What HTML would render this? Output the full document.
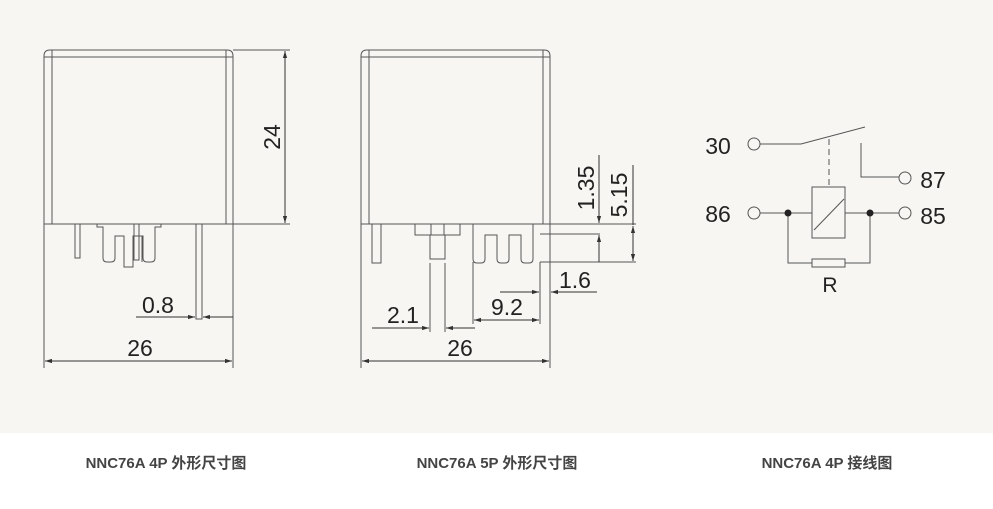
<!DOCTYPE html>
<html><head><meta charset="utf-8"><style>
body{margin:0;width:993px;height:509px;overflow:hidden;background:#fff}
svg{display:block}
text{font-family:"Liberation Sans","Noto Sans CJK SC",sans-serif}
</style></head><body>
<svg width="993" height="509" viewBox="0 0 993 509">
<rect x="0" y="0" width="993" height="433" fill="#f8f6f3"/>
<defs><marker id="a" viewBox="0 0 10 10" refX="10" refY="5" markerWidth="7" markerHeight="7" orient="auto-start-reverse"><path d="M0,2 L10,5 L0,8 z" fill="#333"/></marker></defs>
<g fill="none" stroke="#555" stroke-width="1">
<path d="M44,224 V56 Q44,50 50,50 H227 Q233,50 233,56 V224 Z"/>
<line x1="52" y1="50" x2="52" y2="224"/><line x1="226" y1="50" x2="226" y2="224"/>
<line x1="44" y1="57" x2="233" y2="57"/>
<rect x="75" y="224" width="5" height="34"/>
<path d="M97,224 v3 h6 v31 q0,4 4,4 h4 q4,0 4,-4 v-22 h9 v31 h9 v-31 h10 v22 q0,4 4,4 h4 q4,0 4,-4 v-31 h6 v-3"/>
<line x1="133" y1="236" x2="133" y2="262"/><line x1="142" y1="236" x2="142" y2="262"/>
<rect x="134" y="224" width="5" height="36"/>
<rect x="196" y="224" width="6" height="95"/>
<line x1="233" y1="224" x2="290" y2="224"/><line x1="233" y1="50" x2="290" y2="50"/>
<line x1="44" y1="224" x2="44" y2="368"/><line x1="233" y1="224" x2="233" y2="368"/>
<path d="M361,224 V56 Q361,50 367,50 H544 Q550,50 550,56 V224 Z"/>
<line x1="369" y1="50" x2="369" y2="224"/><line x1="543" y1="50" x2="543" y2="224"/>
<line x1="361" y1="57" x2="550" y2="57"/>
<rect x="372" y="224" width="9" height="39"/>
<rect x="415" y="224" width="45" height="11"/>
<line x1="431" y1="224" x2="431" y2="235"/><line x1="444" y1="224" x2="444" y2="235"/>
<path d="M430,235 v24 h15 v-24"/>
<path d="M473,224 v35 q0,4 4,4 h4 q4,0 4,-4 v-24 h12 v24 q0,4 4,4 h4 q4,0 4,-4 v-24 h12 v24 q0,4 4,4 h4 q4,0 4,-4 v-35"/>
<line x1="361" y1="224" x2="361" y2="368"/><line x1="550" y1="224" x2="550" y2="368"/>
<line x1="550" y1="224" x2="636" y2="224"/><line x1="540" y1="234" x2="600" y2="234"/><line x1="540" y1="262" x2="636" y2="262"/>
<line x1="430" y1="263" x2="430" y2="332"/><line x1="445" y1="263" x2="445" y2="332"/>
<line x1="473" y1="262" x2="473" y2="324"/><line x1="540" y1="262" x2="540" y2="324"/>
<line x1="550" y1="262" x2="550" y2="296"/>
</g>
<g stroke="#333" stroke-width="1" fill="none">
<line x1="285" y1="51" x2="285" y2="223" marker-start="url(#a)" marker-end="url(#a)"/>
<line x1="45" y1="361" x2="232" y2="361" marker-start="url(#a)" marker-end="url(#a)"/>
<line x1="136" y1="317" x2="195" y2="317" marker-end="url(#a)"/>
<line x1="233" y1="317" x2="203" y2="317" marker-end="url(#a)"/>
<line x1="362" y1="361" x2="549" y2="361" marker-start="url(#a)" marker-end="url(#a)"/>
<line x1="372" y1="328" x2="429" y2="328" marker-end="url(#a)"/>
<line x1="475" y1="328" x2="446" y2="328" marker-end="url(#a)"/>
<line x1="474" y1="320" x2="539" y2="320" marker-start="url(#a)" marker-end="url(#a)"/>
<line x1="500" y1="292" x2="539" y2="292" marker-end="url(#a)"/>
<line x1="597" y1="292" x2="551" y2="292" marker-end="url(#a)"/>
<line x1="599" y1="155" x2="599" y2="223" marker-end="url(#a)"/>
<line x1="599" y1="262" x2="599" y2="235" marker-end="url(#a)"/>
<line x1="633" y1="165" x2="633" y2="225"/>
<line x1="633" y1="226" x2="633" y2="261" marker-start="url(#a)" marker-end="url(#a)"/>
</g>
<g fill="#222" font-size="23">
<text x="272" y="137" text-anchor="middle" transform="rotate(-90 272 137)" dy="8">24</text>
<text x="158" y="313" text-anchor="middle">0.8</text>
<text x="140" y="356" text-anchor="middle">26</text>
<text x="403" y="323" text-anchor="middle">2.1</text>
<text x="507" y="315" text-anchor="middle">9.2</text>
<text x="575" y="288" text-anchor="middle">1.6</text>
<text x="460" y="356" text-anchor="middle">26</text>
<text x="586" y="188" text-anchor="middle" transform="rotate(-90 586 188)" dy="8">1.35</text>
<text x="619" y="195" text-anchor="middle" transform="rotate(-90 619 195)" dy="8">5.15</text>
<text x="718" y="154" text-anchor="middle">30</text>
<text x="718" y="222" text-anchor="middle">86</text>
<text x="933" y="188" text-anchor="middle">87</text>
<text x="933" y="224" text-anchor="middle">85</text>
<text x="830" y="292" text-anchor="middle" font-size="21">R</text>
</g>
<g stroke="#555" stroke-width="1" fill="none">
<circle cx="754" cy="144" r="6"/><circle cx="754" cy="213" r="6"/>
<circle cx="905" cy="178" r="6"/><circle cx="905" cy="213" r="6"/>
<polyline points="760,144 801,144 865,127"/>
<line x1="829" y1="139" x2="829" y2="187" stroke-dasharray="6,4"/>
<polyline points="861,143 861,177 899,177"/>
<rect x="812" y="187" width="33" height="51"/>
<line x1="814" y1="230" x2="844" y2="199"/>
<line x1="760" y1="213" x2="812" y2="213"/><line x1="845" y1="213" x2="899" y2="213"/>
<polyline points="788,213 788,263 812,263"/><polyline points="870,213 870,263 845,263"/>
<rect x="812" y="259" width="33" height="8"/>
</g>
<circle cx="788" cy="213" r="3.5" fill="#222"/><circle cx="870" cy="213" r="3.5" fill="#222"/>
<g fill="#444" font-size="15" font-weight="bold" text-anchor="middle">
<text x="166" y="468">NNC76A 4P 外形尺寸图</text>
<text x="497" y="468">NNC76A 5P 外形尺寸图</text>
<text x="827" y="468">NNC76A 4P 接线图</text>
</g>
</svg>
</body></html>
